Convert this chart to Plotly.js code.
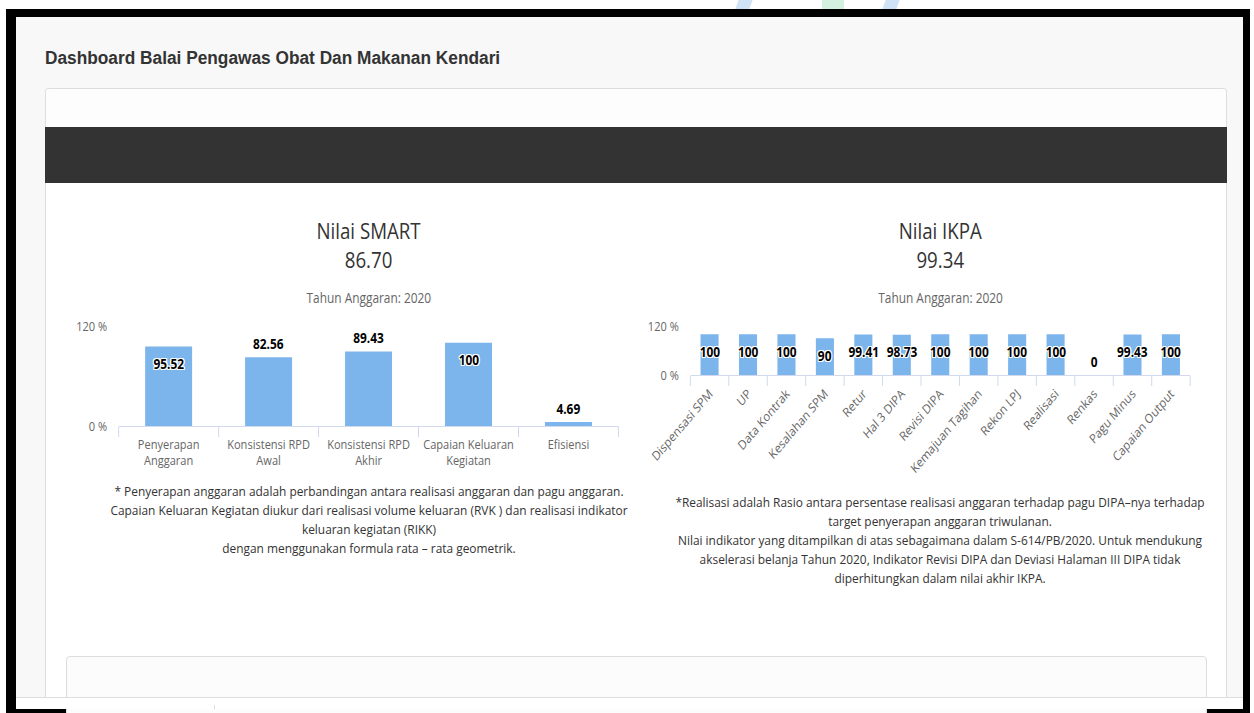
<!DOCTYPE html>
<html><head><meta charset="utf-8">
<script src="https://cdn.plot.ly/plotly-3.0.1.min.js"></script>
<style>
html,body{margin:0;padding:0;width:1254px;height:713px;overflow:hidden;background:#fff;font-family:"Open Sans",sans-serif;}
.abs{position:absolute;}
#frame{left:6px;top:9px;width:1244px;height:704px;background:#000;}
#inner{left:16px;top:17px;width:1227px;height:692px;background:#f8f8f8;}
#pageTitle{left:45px;top:47px;font-family:"Liberation Sans",Arial,sans-serif;font-weight:bold;font-size:18px;line-height:22px;color:#333;white-space:nowrap;transform:scaleX(0.96);transform-origin:0 0;}
#panel{left:45px;top:88px;width:1180px;height:620px;background:#fff;border:1px solid #ddd;border-bottom:none;border-radius:4px 4px 0 0;}
#phead{left:46px;top:89px;width:1180px;height:38px;background:#fdfdfd;border-radius:4px 4px 0 0;}
#band{left:45px;top:127px;width:1182px;height:56px;background:#333;}
#panel2{left:66px;top:656px;width:1139px;height:70px;background:#fcfcfc;border:1px solid #ddd;border-radius:4px 4px 0 0;}
#strip{left:16px;top:697px;width:1227px;height:11px;background:#fff;border-top:1px solid #ddd;}
#vline{left:214px;top:705px;width:1px;height:4px;background:#ddd;}
.chart{position:absolute;transform:scaleX(0.85);transform-origin:0 0;}
.note{position:absolute;font-family:"Open Sans",sans-serif;font-size:13px;line-height:19px;color:#333;text-align:center;white-space:nowrap;transform:scaleX(0.915);transform-origin:50% 0;}
#wm1{left:737px;top:0;width:14px;height:9px;background:#cfe2f6;transform:skewX(-20deg);}
#wm2{left:822px;top:0;width:22px;height:9px;background:#d4f1df;}
#wm3{left:884px;top:0;width:14px;height:9px;background:#cfe2f6;transform:skewX(-20deg);}
</style></head>
<body>
<div id="wm1" class="abs"></div><div id="wm2" class="abs"></div><div id="wm3" class="abs"></div>
<div id="frame" class="abs"></div>
<div id="inner" class="abs"></div>
<div id="pageTitle" class="abs">Dashboard Balai Pengawas Obat Dan Makanan Kendari</div>
<div id="panel" class="abs"></div>
<div id="phead" class="abs"></div>
<div id="band" class="abs"></div>
<div id="smart" class="chart"></div>
<div id="ikpa" class="chart"></div>
<div id="noteL" class="note"></div>
<div id="noteR" class="note"></div>
<div id="panel2" class="abs"></div>
<div id="strip" class="abs"></div>
<div id="vline" class="abs"></div>
<script>
// ---- data ----
const smartTitle = 'Nilai SMART';
const smartScore = '86.70';
const smartCats = ['Penyerapan<br>Anggaran','Konsistensi RPD<br>Awal','Konsistensi RPD<br>Akhir','Capaian Keluaran<br>Kegiatan','Efisiensi'];
const smartVals = [95.52, 82.56, 89.43, 100, 4.69];

const ikpaTitle = 'Nilai IKPA';
const ikpaScore = '99.34';
const ikpaCats = ['Dispensasi SPM','UP','Data Kontrak','Kesalahan SPM','Retur','Hal 3 DIPA','Revisi DIPA','Kemajuan Tagihan','Rekon LPJ','Realisasi','Renkas','Pagu Minus','Capaian Output'];
const ikpaVals = [100, 100, 100, 90, 99.41, 98.73, 100, 100, 100, 100, 0, 99.43, 100];

const subtitleText = 'Tahun Anggaran: 2020';
const yTickVals = [0, 120];
const yTickText = ['0 %', '120 %'];
const yMax = 120;

const noteLeftLines = [
  '* Penyerapan anggaran adalah perbandingan antara realisasi anggaran dan pagu anggaran.',
  'Capaian Keluaran Kegiatan diukur dari realisasi volume keluaran (RVK ) dan realisasi indikator',
  'keluaran kegiatan (RIKK)',
  'dengan menggunakan formula rata \u2013 rata geometrik.'
];
const noteRightLines = [
  '*Realisasi adalah Rasio antara persentase realisasi anggaran terhadap pagu DIPA\u2013nya terhadap',
  'target penyerapan anggaran triwulanan.',
  'Nilai indikator yang ditampilkan di atas sebagaimana dalam S-614/PB/2020. Untuk mendukung',
  'akselerasi belanja Tahun 2020, Indikator Revisi DIPA dan Deviasi Halaman III DIPA tidak',
  'diperhitungkan dalam nilai akhir IKPA.'
];

// ---- notes ----
function fillNote(el, lines, centerX, top, w) {
  el.innerHTML = lines.map(l => '<div>' + l.replace(/&/g,'&amp;').replace(/</g,'&lt;') + '</div>').join('');
  el.style.width = w + 'px';
  el.style.left = (centerX - w / 2) + 'px';
  el.style.top = top + 'px';
}
fillNote(document.getElementById('noteL'), noteLeftLines, 369, 482, 720);
fillNote(document.getElementById('noteR'), noteRightLines, 940, 493, 720);

// ---- charts ----
const S = 0.85;
const FONT = '"Open Sans", sans-serif';
const outline = '1px 1px 0 #fff, -1px -1px 0 #fff, 1px -1px 0 #fff, -1px 1px 0 #fff, 0 1px 0 #fff, 0 -1px 0 #fff, 1px 0 0 #fff, -1px 0 0 #fff';

function makeChart(id, title, score, cats, vals, box, tickAngle, standoff) {
  const el = document.getElementById(id);
  const W = box.w / S, H = box.h;
  el.style.left = box.left + 'px';
  el.style.top = box.top + 'px';
  el.style.width = W + 'px';
  el.style.height = H + 'px';
  const m = {
    l: (box.pl - box.left) / S,
    r: (box.left + box.w - box.pr) / S,
    t: box.pt - box.top,
    b: box.top + box.h - box.pb,
    pad: 0
  };
  const plotH = box.pb - box.pt;
  const anns = vals.map((v, i) => {
    const topPx = plotH * (1 - v / yMax);
    const inside = (topPx - 23) < 0;
    return {
      x: cats[i], y: v, xref: 'x', yref: 'y', text: String(v), showarrow: false,
      yanchor: 'middle', yshift: inside ? -17 : 14,
      font: {family: FONT, size: 14, color: '#000', weight: 700, shadow: outline}
    };
  });
  anns.push({
    xref: 'paper', yref: 'paper', x: 0.5, y: 1 + (box.pt - box.subY) / plotH,
    yanchor: 'middle', xanchor: 'center', showarrow: false, text: subtitleText,
    font: {family: FONT, size: 14, color: '#666'}
  });
  const trace = {
    type: 'bar', x: cats, y: vals, width: 0.47,
    marker: {color: '#7cb5ec', line: {width: 0}},
    hoverinfo: 'skip'
  };
  const layout = {
    width: W, height: H, margin: m,
    paper_bgcolor: 'rgba(0,0,0,0)', plot_bgcolor: 'rgba(0,0,0,0)',
    font: {family: FONT, color: '#666', size: 13},
    showlegend: false,
    title: {
      text: title + '<br>' + score, x: 0.5, xref: 'paper', xanchor: 'center',
      y: 1 - box.titleTop / H, yref: 'container', yanchor: 'top',
      font: {family: FONT, size: 22, color: '#333'}
    },
    xaxis: {
      type: 'category', showline: true, linecolor: '#ccd6eb', linewidth: 1,
      ticks: 'outside', ticklen: 10, tickcolor: '#ccd6eb', tickwidth: 1,
      tickson: 'boundaries', showgrid: false, zeroline: false,
      ticklabelstandoff: standoff,
      tickangle: tickAngle, tickfont: {family: FONT, size: 13, color: '#666'},
      fixedrange: true
    },
    yaxis: {
      range: [0, yMax], tickmode: 'array', tickvals: yTickVals, ticktext: yTickText,
      showgrid: true, gridcolor: '#e6e6e6', gridwidth: 1, zeroline: false, showline: false,
      ticks: 'outside', ticklen: 10, tickcolor: 'rgba(0,0,0,0)',
      tickfont: {family: FONT, size: 13, color: '#666'}, fixedrange: true
    },
    annotations: anns,
    bargap: 0.53
  };
  Plotly.newPlot(el, [trace], layout, {staticPlot: true, displayModeBar: false});
}

makeChart('smart', smartTitle, smartScore, smartCats, smartVals,
  {left: 60, top: 200, w: 580, h: 280, pl: 119, pr: 619, pt: 325.7, pb: 426, subY: 297, titleTop: 39}, 0, 6);
makeChart('ikpa', ikpaTitle, ikpaScore, ikpaCats, ikpaVals,
  {left: 630, top: 200, w: 600, h: 290, pl: 690, pr: 1190, pt: 325.7, pb: 375, subY: 297, titleTop: 39}, -45, 5);
</script>
</body></html>
